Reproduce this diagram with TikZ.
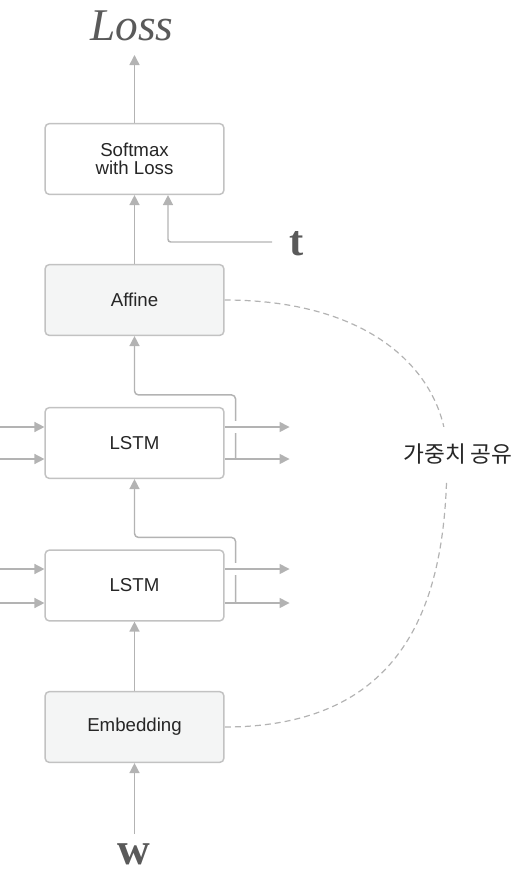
\documentclass[tikz,border=0pt]{standalone}
\usepackage{fontspec}
\newfontfamily\lsans{Liberation Sans}
\newfontfamily\lserif{Liberation Serif}
\newfontfamily\kr{Noto Sans CJK KR}
\usetikzlibrary{arrows.meta,calc}
\definecolor{lnc}{HTML}{B3B3B3}
\definecolor{bdc}{HTML}{C2C2C2}
\definecolor{flc}{HTML}{F4F5F5}
\definecolor{txc}{HTML}{262626}
\definecolor{gtc}{HTML}{5A5A5A}
\begin{document}
\begin{tikzpicture}[x=0.75pt,y=-0.75pt,
  box/.style={draw=bdc, line width=1.1pt, rounded corners=3pt, fill=white,
    minimum width=134pt, minimum height=53pt, inner sep=0pt,
    font=\lsans\fontsize{14}{13.5}\selectfont, text=txc, align=center},
  greybox/.style={box, fill=flc},
  arr/.style={draw=lnc, line width=1.1pt, -{Triangle[length=7.5pt,width=7.5pt]}},
  share/.style={draw=lnc, line width=0.9pt, dash pattern=on 4.5pt off 3pt}
]
\useasboundingbox (0,0) rectangle (513,872);

% boxes
\node[box] (soft) at (134.5,159) {Softmax\\with Loss};
\node[greybox] (aff) at (134.5,300) {Affine};
\node[box] (l1) at (134.5,443) {LSTM};
\node[box] (l2) at (134.5,585.5) {LSTM};
\node[greybox] (emb) at (134.5,727) {Embedding};

% texts
\node[text=gtc, font=\lserif\itshape\fontsize{34}{36}\selectfont, inner sep=0pt] (loss) at (132,26) {Loss};
\node[text=gtc, font=\lserif\bfseries\fontsize{32}{34}\selectfont, inner sep=0pt, anchor=base] (t) at (297,255) {t};
\node[text=gtc, font=\lserif\bfseries\fontsize{34}{36}\selectfont, inner sep=0pt, anchor=base] (w) at (134,864) {w};

% weight sharing
\draw[share] (aff.east) .. controls (380,300) and (447,380) .. (447,455)
  .. controls (447,580) and (420,727) .. (emb.east);
\node[fill=white, inner sep=0pt, minimum height=40pt, minimum width=80pt,
  font=\kr\fontsize{17}{18}\selectfont, text=black!85] (lbl) at (458,454) {가중치 공유};

% vertical flow
\coordinate (lossin) at (134.5,55);
\draw[arr] (soft.north) -- (lossin);
\draw[arr] (aff.north) -- (soft.south);
\coordinate (tin) at (272,242);
\draw[arr, rounded corners=2pt] (tin) -| ($(soft.south)+(33.5,0)$);
\draw[arr] (emb.north) -- (l2.south);
\coordinate (win) at (134.5,834);
\draw[arr] (win) -- (emb.south);

% LSTM 1
\coordinate (a1) at ($(l1.west)+(-45,-16)$);
\coordinate (b1) at ($(l1.west)+(-45,16)$);
\draw[arr] (a1) -- ($(l1.west)+(0,-16)$);
\draw[arr] (b1) -- ($(l1.west)+(0,16)$);
\draw[arr, rounded corners=3pt] ($(l1.east)+(11,16)$) |- ($(l1.north)+(0,-12)$) -- (aff.south);
\draw[white, line width=9pt] ($(l1.east)+(8,-16)$) -- ++(6,0);
\coordinate (c1) at ($(l1.east)+(65,-16)$);
\coordinate (d1) at ($(l1.east)+(65,16)$);
\draw[arr] ($(l1.east)+(0,-16)$) -- (c1);
\draw[arr] ($(l1.east)+(0,16)$) -- (d1);

% LSTM 2
\coordinate (a2) at ($(l2.west)+(-45,-16.5)$);
\coordinate (b2) at ($(l2.west)+(-45,17.5)$);
\draw[arr] (a2) -- ($(l2.west)+(0,-16.5)$);
\draw[arr] (b2) -- ($(l2.west)+(0,17.5)$);
\draw[arr, rounded corners=3pt] ($(l2.east)+(11,17.5)$) |- ($(l2.north)+(0,-12)$) -- (l1.south);
\draw[white, line width=9pt] ($(l2.east)+(8,-16.5)$) -- ++(6,0);
\coordinate (c2) at ($(l2.east)+(65,-16.5)$);
\coordinate (d2) at ($(l2.east)+(65,17.5)$);
\draw[arr] ($(l2.east)+(0,-16.5)$) -- (c2);
\draw[arr] ($(l2.east)+(0,17.5)$) -- (d2);
\end{tikzpicture}
\end{document}
